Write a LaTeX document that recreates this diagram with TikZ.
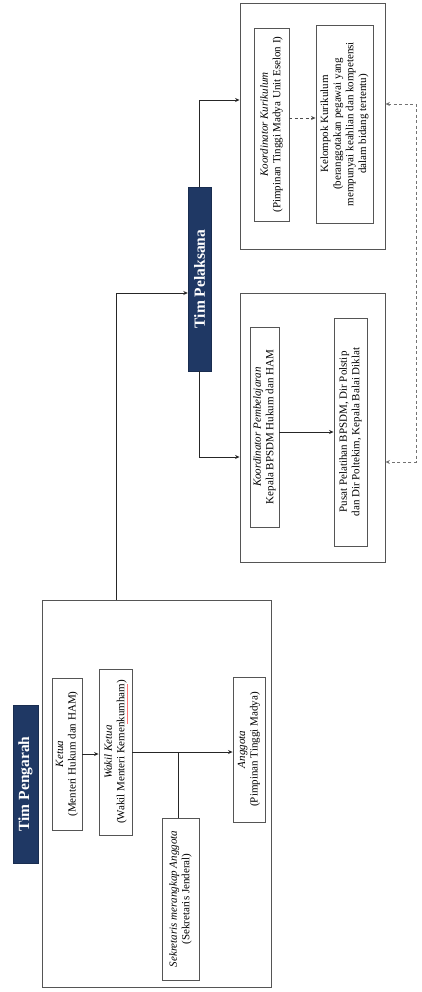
\documentclass[tikz,border=0pt]{standalone}
\usepackage{fontspec}
\setmainfont{Liberation Serif}
\usetikzlibrary{arrows.meta,calc}
\definecolor{navy}{RGB}{31,56,100}
\definecolor{edge}{RGB}{85,85,85}
\begin{document}
\begin{tikzpicture}[x=1pt,y=-1pt,
  bx/.style={draw=edge,line width=0.9pt,rotate=90,align=center,inner sep=0pt,
    font=\fontsize{11}{12.6}\selectfont},
  frame/.style={draw=edge,line width=0.9pt,rotate=90,inner sep=0pt},
  title/.style={fill=navy,draw=navy!80!black,rotate=90,inner sep=0pt,text=white,
    font=\fontsize{15.5}{18}\selectfont\bfseries},
  conn/.style={draw=black!85,line width=0.8pt},
  arr/.style={conn,-{Stealth[length=4.5pt,width=4pt]}},
  darr/.style={draw=black!70,line width=0.8pt,dash pattern=on 3pt off 2.5pt,-{Stealth[length=4.5pt,width=4pt]}},
]
\useasboundingbox (0,0) rectangle (422,992);
% ---- Tim Pengarah ----
\node[title,minimum width=158pt,minimum height=25pt] (tp) at (25.5,784) {Tim Pengarah};
\node[frame,minimum width=387pt,minimum height=229pt] (fPeng) at (156.5,793.5) {};
\node[bx,minimum width=152pt,minimum height=30pt] (ketua) at (67,754)
  {\textit{Ketua}\\(Menteri Hukum dan HAM)};
\node[bx,minimum width=166pt,minimum height=33pt] (wakil) at (115.5,752)
  {\textit{Wakil Ketua}\\(Wakil Menteri Kemenkumham)};
\node[bx,minimum width=162pt,minimum height=37pt] (sekr) at (180.5,899)
  {\textit{Sekretaris merangkap Anggota}\\(Sekretaris Jenderal)};
\node[bx,minimum width=145pt,minimum height=32pt] (anggota) at (249,749.5)
  {\textit{Anggota}\\(Pimpinan Tinggi Madya)};
\draw[red!55,line width=0.6pt] (127,684) -- (127,724);
% ---- Tim Pelaksana ----
\node[title,minimum width=184pt,minimum height=23pt] (tpl) at (199.5,279) {Tim Pelaksana};
\node[frame,minimum width=269pt,minimum height=145pt] (fPemb) at (312.5,427.5) {};
\node[bx,minimum width=200pt,minimum height=29pt] (kpemb) at (264.5,427)
  {\textit{Koordinator Pembelajaran}\\Kepala BPSDM Hukum dan HAM};
\node[bx,minimum width=228pt,minimum height=33pt] (pusat) at (350.5,432)
  {Pusat Pelatihan BPSDM, Dir Polstip\\dan Dir Poltekim, Kepala Balai Diklat};
\node[frame,minimum width=246pt,minimum height=145pt] (fKur) at (312.5,126) {};
\node[bx,minimum width=193pt,minimum height=35pt] (kkur) at (271.5,124.5)
  {\textit{Koordinator Kurikulum}\\(Pimpinan Tinggi Madya Unit Eselon I)};
\node[bx,minimum width=198pt,minimum height=57pt] (kelompok) at (344.5,124)
  {Kelompok Kurikulum\\(beranggotakan pegawai yang\\mempunyai keahlian dan kompetensi\\dalam bidang tertentu)};
% ---- connectors ----
\draw[arr] (ketua.south) -- (ketua.south -| wakil.north);
\draw[arr] (wakil.south) -- (wakil.south -| anggota.north);
\coordinate (br) at (178,752);
\draw[conn] (br) -- (br |- sekr.east);
\coordinate (c1) at (116,293);
\draw[arr] (c1 |- fPeng.east) -- (c1) -- (c1 -| tpl.north);
\coordinate (c2) at (199.5,457);
\draw[arr] (tpl.west) -- (c2) -- (c2 -| fPemb.north);
\coordinate (c3) at (199.5,100);
\draw[arr] (tpl.east) -- (c3) -- (c3 -| fKur.north);
\draw[arr] (kpemb.south |- pusat.north) -- (pusat.north);
\coordinate (c4) at (289,118);
\draw[darr] (c4 -| kkur.south) -- (c4 -| kelompok.north);
\coordinate (r1) at (416,104);
\coordinate (r2) at (416,462);
\draw[darr,{Stealth[length=4.5pt,width=4pt]}-{Stealth[length=4.5pt,width=4pt]},draw=black!55]
  (r1 -| fKur.south) -- (r1) -- (r2) -- (r2 -| fPemb.south);
\end{tikzpicture}
\end{document}
